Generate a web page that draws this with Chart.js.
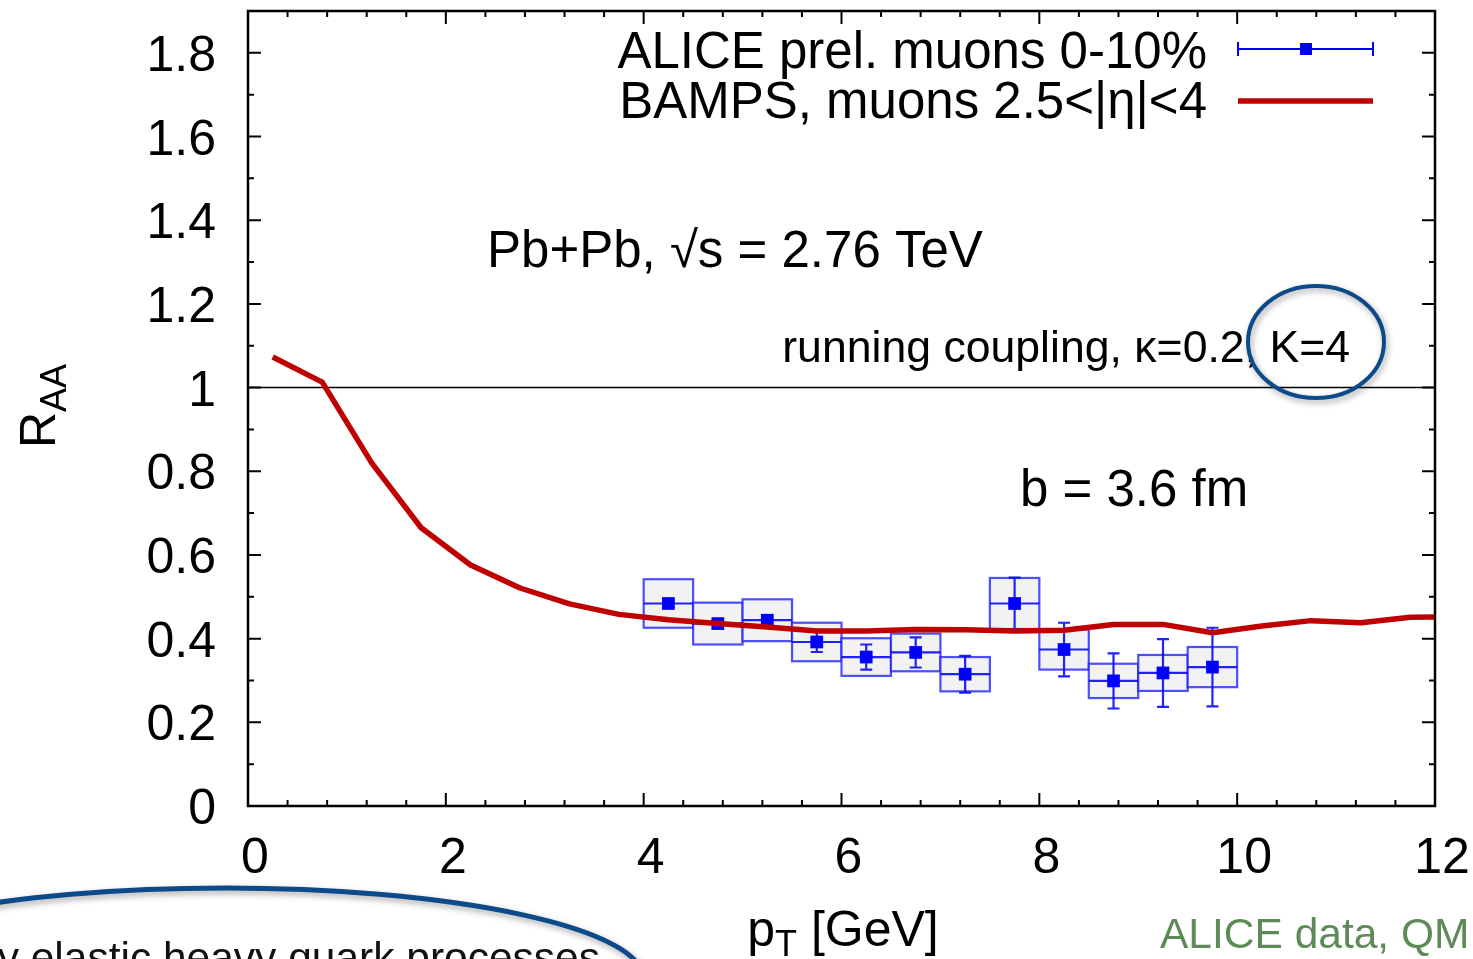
<!DOCTYPE html>
<html>
<head>
<meta charset="utf-8">
<title>Muon R_AA, Pb+Pb 2.76 TeV</title>
<script src="https://cdn.jsdelivr.net/npm/chart.js@4.4.1/dist/chart.umd.min.js"></script>
<style>
    html, body { margin: 0; padding: 0; background: #fff; }
    #raaChart { display: block; }
</style>
</head>
<body>
<canvas id="raaChart" width="1473" height="959"></canvas>
<script>
// BAMPS muon R_AA, 2.5<|eta|<4
const bampsPt = [0.25, 0.75, 1.25, 1.75, 2.25, 2.75, 3.25, 3.75, 4.25, 4.75, 5.25, 5.75,
    6.25, 6.75, 7.25, 7.75, 8.25, 8.75, 9.25, 9.75, 10.25, 10.75, 11.25, 11.75, 12.25];
const bampsRaa = [1.073, 1.013, 0.82, 0.665, 0.576, 0.521, 0.483, 0.458, 0.445, 0.436, 0.428, 0.418,
    0.418, 0.422, 0.421, 0.418, 0.420, 0.434, 0.434, 0.414, 0.430, 0.443, 0.438, 0.451, 0.452];

// ALICE preliminary muons 0-10%
const alicePt = [4.25, 4.75, 5.25, 5.75, 6.25, 6.75, 7.25, 7.75, 8.25, 8.75, 9.25, 9.75];
const aliceRaa = [0.484, 0.436, 0.444, 0.392, 0.356, 0.367, 0.315, 0.484, 0.374, 0.299, 0.318, 0.332];
const aliceStat = [0.008, 0.008, 0.008, 0.024, 0.030, 0.036, 0.044, 0.062, 0.064, 0.066, 0.081, 0.094];
const aliceSys = [0.058, 0.050, 0.050, 0.046, 0.045, 0.045, 0.041, 0.061, 0.048, 0.041, 0.043, 0.048];
const aliceHalfBin = 0.25;

// axis ticks
const xTicks = [0, 2, 4, 6, 8, 10, 12];
const xTickLabels = ['0', '2', '4', '6', '8', '10', '12'];
const yTicks = [0, 0.2, 0.4, 0.6, 0.8, 1.0, 1.2, 1.4, 1.6, 1.8];
const yTickLabels = ['0', '0.2', '0.4', '0.6', '0.8', '1', '1.2', '1.4', '1.6', '1.8'];

const FONT = '"Liberation Sans", Arial, Helvetica, sans-serif';
const BLUE = '#0000ff';
const RED = '#c00000';

function font(size) {
    return size + 'px ' + FONT;
}

// text with one subscripted part, laid out left to right from x
function drawSubText(ctx, parts, x, y) {
    let cx = x;
    parts.forEach(p => {
        ctx.font = font(p.size);
        ctx.fillText(p.text, cx, y + (p.shift || 0));
        cx += ctx.measureText(p.text).width;
    });
}

function subTextWidth(ctx, parts) {
    return parts.reduce((w, p) => {
        ctx.font = font(p.size);
        return w + ctx.measureText(p.text).width;
    }, 0);
}

function ellipse(ctx, cx, cy, rx, ry, color, width) {
    ctx.save();
    ctx.shadowColor = 'rgba(0, 0, 0, 0.35)';
    ctx.shadowBlur = 6;
    ctx.shadowOffsetX = 2;
    ctx.shadowOffsetY = 3;
    ctx.strokeStyle = color;
    ctx.lineWidth = width;
    ctx.beginPath();
    ctx.ellipse(cx, cy, rx, ry, 0, 0, Math.PI * 2);
    ctx.stroke();
    ctx.restore();
}

const raaDecor = {
    id: 'raaDecor',
    beforeDatasetsDraw(chart) {
        const { ctx, chartArea: a, scales: { x, y } } = chart;
        ctx.save();

        // R_AA = 1 reference
        const yOne = y.getPixelForValue(1);
        ctx.strokeStyle = '#000';
        ctx.lineWidth = 1.5;
        ctx.beginPath();
        ctx.moveTo(a.left, yOne);
        ctx.lineTo(a.right, yOne);
        ctx.stroke();

        // systematic boxes
        alicePt.forEach((pt, i) => {
            const x0 = x.getPixelForValue(pt - aliceHalfBin);
            const x1 = x.getPixelForValue(pt + aliceHalfBin);
            const yt = y.getPixelForValue(aliceRaa[i] + aliceSys[i]);
            const yb = y.getPixelForValue(aliceRaa[i] - aliceSys[i]);
            ctx.fillStyle = '#f2f2f2';
            ctx.fillRect(x0, yt, x1 - x0, yb - yt);
            ctx.strokeStyle = 'rgba(20, 20, 255, 0.75)';
            ctx.lineWidth = 2.2;
            ctx.strokeRect(x0, yt, x1 - x0, yb - yt);
        });

        // bin width and statistical error bars
        ctx.strokeStyle = 'rgba(10, 10, 255, 0.9)';
        ctx.lineWidth = 2.2;
        alicePt.forEach((pt, i) => {
            const xc = x.getPixelForValue(pt);
            const x0 = x.getPixelForValue(pt - aliceHalfBin);
            const x1 = x.getPixelForValue(pt + aliceHalfBin);
            const yc = y.getPixelForValue(aliceRaa[i]);
            const yt = y.getPixelForValue(aliceRaa[i] + aliceStat[i]);
            const yb = y.getPixelForValue(aliceRaa[i] - aliceStat[i]);
            ctx.beginPath();
            ctx.moveTo(x0, yc); ctx.lineTo(x1, yc);
            ctx.moveTo(xc, yt); ctx.lineTo(xc, yb);
            ctx.moveTo(xc - 6, yt); ctx.lineTo(xc + 6, yt);
            ctx.moveTo(xc - 6, yb); ctx.lineTo(xc + 6, yb);
            ctx.stroke();
        });
        ctx.restore();
    },
    afterDatasetsDraw(chart) {
        const { ctx, chartArea: a, scales: { x, y } } = chart;
        ctx.save();

        // frame
        ctx.strokeStyle = '#000';
        ctx.lineWidth = 2.5;
        ctx.strokeRect(a.left, a.top, a.right - a.left, a.bottom - a.top);

        // inward ticks on all four sides
        ctx.lineWidth = 2;
        ctx.beginPath();
        for (let k = 1; k < 30; k++) {
            const px = x.getPixelForValue(k * 0.4);
            const len = k % 5 === 0 ? 13 : 6;
            ctx.moveTo(px, a.bottom); ctx.lineTo(px, a.bottom - len);
            ctx.moveTo(px, a.top); ctx.lineTo(px, a.top + len);
        }
        for (let k = 1; k < 19; k++) {
            const py = y.getPixelForValue(k * 0.1);
            const len = k % 2 === 0 ? 13 : 6;
            ctx.moveTo(a.left, py); ctx.lineTo(a.left + len, py);
            ctx.moveTo(a.right, py); ctx.lineTo(a.right - len, py);
        }
        ctx.stroke();

        // tick labels
        ctx.fillStyle = '#000';
        ctx.font = font(50);
        ctx.textAlign = 'center';
        ctx.textBaseline = 'alphabetic';
        xTicks.forEach((v, i) => {
            ctx.fillText(xTickLabels[i], x.getPixelForValue(v) + 7, 873);
        });
        ctx.textAlign = 'right';
        yTicks.forEach((v, i) => {
            ctx.fillText(yTickLabels[i], 216, y.getPixelForValue(v) + 18);
        });

        // legend
        ctx.font = font(51);
        ctx.textAlign = 'right';
        ctx.fillText('ALICE prel. muons 0-10%', 1207, 68);
        ctx.fillText('BAMPS, muons 2.5<|\u03b7|<4', 1207, 118);

        ctx.strokeStyle = BLUE;
        ctx.lineWidth = 2;
        ctx.beginPath();
        ctx.moveTo(1238, 49); ctx.lineTo(1373, 49);
        ctx.moveTo(1238, 42); ctx.lineTo(1238, 56);
        ctx.moveTo(1373, 42); ctx.lineTo(1373, 56);
        ctx.stroke();
        ctx.fillStyle = BLUE;
        ctx.fillRect(1300, 43, 12, 12);

        ctx.strokeStyle = RED;
        ctx.lineWidth = 5.5;
        ctx.beginPath();
        ctx.moveTo(1238, 101); ctx.lineTo(1373, 101);
        ctx.stroke();
        ctx.restore();
    },
    afterDraw(chart) {
        const { ctx } = chart;
        ctx.save();
        ctx.fillStyle = '#000';
        ctx.textBaseline = 'alphabetic';

        // in-plot annotations
        ctx.textAlign = 'left';
        ctx.font = font(51);
        ctx.fillText('Pb+Pb, \u221as = 2.76 TeV', 487, 267);
        ctx.fillText('b = 3.6 fm', 1020, 506);
        ctx.textAlign = 'right';
        ctx.font = font(44.6);
        ctx.fillText('running coupling, \u03ba=0.2, K=4', 1350, 362);

        // axis titles
        ctx.textAlign = 'left';
        const xTitle = [
            { text: 'p', size: 50 },
            { text: 'T', size: 36, shift: 10 },
            { text: ' [GeV]', size: 50 }
        ];
        drawSubText(ctx, xTitle, 843 - subTextWidth(ctx, xTitle) / 2, 946);

        const yTitle = [
            { text: 'R', size: 50 },
            { text: 'AA', size: 36, shift: 11 }
        ];
        ctx.save();
        ctx.translate(55, 406);
        ctx.rotate(-Math.PI / 2);
        drawSubText(ctx, yTitle, -subTextWidth(ctx, yTitle) / 2, 0);
        ctx.restore();

        // source note
        ctx.fillStyle = '#5e8a58';
        ctx.font = font(42.5);
        ctx.fillText('ALICE data, QM', 1160, 948);

        // callouts
        ellipse(ctx, 1316, 342, 68, 56, '#0d4a8a', 4);
        ellipse(ctx, 225, 978, 418, 90, '#0d4a8a', 5);
        ctx.fillStyle = '#111';
        ctx.textAlign = 'right';
        ctx.font = font(42.5);
        ctx.fillText('Only elastic heavy quark processes', 600, 972);
        ctx.restore();
    }
};

new Chart(document.getElementById('raaChart'), {
    type: 'scatter',
    data: {
        datasets: [
            {
                label: 'BAMPS, muons 2.5<|\u03b7|<4',
                type: 'line',
                data: bampsPt.map((pt, i) => ({ x: pt, y: bampsRaa[i] })),
                borderColor: RED,
                borderWidth: 5.5,
                borderJoinStyle: 'round',
                pointRadius: 0,
                tension: 0,
                fill: false,
                clip: 0,
                order: 0
            },
            {
                label: 'ALICE prel. muons 0-10%',
                data: alicePt.map((pt, i) => ({ x: pt, y: aliceRaa[i] })),
                pointStyle: 'rect',
                pointRadius: 9,
                backgroundColor: BLUE,
                borderWidth: 0,
                order: 1
            }
        ]
    },
    options: {
        responsive: false,
        animation: false,
        devicePixelRatio: 1,
        events: [],
        layout: {
            padding: { left: 248, right: 38, top: 11, bottom: 153 }
        },
        scales: {
            x: { type: 'linear', min: 0, max: 12, display: false },
            y: { type: 'linear', min: 0, max: 1.9, display: false }
        },
        plugins: {
            legend: { display: false },
            tooltip: { enabled: false }
        }
    },
    plugins: [raaDecor]
});
</script>
</body>
</html>
